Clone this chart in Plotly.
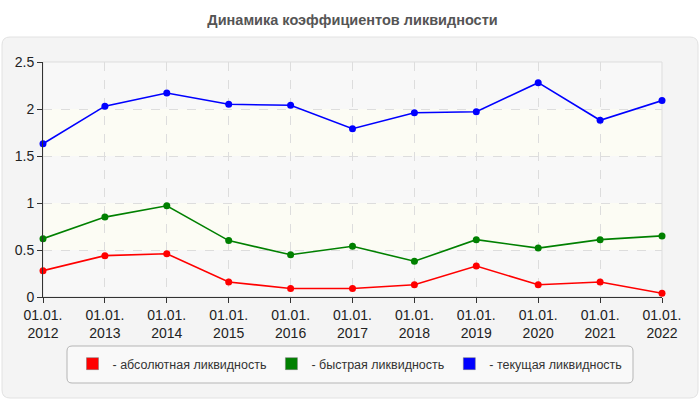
import plotly.graph_objs as go

# данные
years = [2012, 2013, 2014, 2015, 2016, 2017, 2018, 2019, 2020, 2021, 2022]
tick_text = ["01.01.<br>%d" % y for y in years]

absolute_liq = [0.28, 0.44, 0.46, 0.16, 0.09, 0.09, 0.13, 0.33, 0.13, 0.16, 0.04]
quick_liq = [0.62, 0.85, 0.97, 0.60, 0.45, 0.54, 0.38, 0.61, 0.52, 0.61, 0.65]
current_liq = [1.63, 2.03, 2.17, 2.05, 2.04, 1.79, 1.96, 1.97, 2.28, 1.88, 2.09]

series_names = ["- абсолютная ликвидность", "- быстрая ликвидность", "- текущая ликвидность"]
series_colors = ["#ff0000", "#008000", "#0000ff"]

y_ticks = [0, 0.5, 1, 1.5, 2, 2.5]
y_tick_text = ["0", "0.5", "1", "1.5", "2", "2.5"]

# геометрия области графика (пиксели)
W, H = 700, 400
L, R, T, B = 43, 662, 62, 297


def px(x):
    return (x - L) / (R - L)


def py(y):
    return (B - y) / (B - T)


def rounded_rect(x0, y0, x1, y1, r):
    # скруглённый прямоугольник в координатах paper
    ax0, ax1 = px(x0), px(x1)
    ay0, ay1 = py(y0), py(y1)
    rx = r / (R - L)
    ry = r / (B - T)
    return (
        f"M{ax0 + rx},{ay0} L{ax1 - rx},{ay0} Q{ax1},{ay0} {ax1},{ay0 - ry} "
        f"L{ax1},{ay1 + ry} Q{ax1},{ay1} {ax1 - rx},{ay1} "
        f"L{ax0 + rx},{ay1} Q{ax0},{ay1} {ax0},{ay1 + ry} "
        f"L{ax0},{ay0 - ry} Q{ax0},{ay0} {ax0 + rx},{ay0} Z"
    )


data = []
for vals, name, color in zip([absolute_liq, quick_liq, current_liq], series_names, series_colors):
    data.append(go.Scatter(
        x=years, y=vals, mode="lines+markers", name=name, showlegend=False,
        line=dict(color=color, width=1.6), marker=dict(color=color, size=7),
        cliponaxis=False, hoverinfo="skip",
    ))
    # легенда с прямоугольными маркерами
    data.append(go.Bar(
        x=[None], y=[None], name=name,
        marker=dict(color=color, line=dict(color="#777777", width=0.5)),
    ))

# фон: панель и полосы
shapes = [
    dict(type="path", xref="paper", yref="paper", path=rounded_rect(2, 37, 698, 398, 8),
         fillcolor="#f4f4f4", line=dict(color="#e2e2e2", width=1), layer="below"),
    dict(type="path", xref="paper", yref="paper", path=rounded_rect(67, 346, 633, 383, 5),
         fillcolor="#f9f9f9", line=dict(color="#b5b5b5", width=1), layer="below"),
]
band_colors = ["#f8f8f8", "#fcfcf4"]
for i in range(len(y_ticks) - 1):
    shapes.append(dict(
        type="rect", xref="paper", yref="y", x0=0, x1=1, y0=y_ticks[i], y1=y_ticks[i + 1],
        fillcolor=band_colors[i % 2], line=dict(width=0), layer="below",
    ))
shapes.append(dict(type="rect", xref="paper", yref="paper", x0=0, x1=1, y0=0, y1=1,
                   line=dict(color="#dddddd", width=1), layer="below"))

layout = {
    "width": W,
    "height": H,
    "margin": dict(l=L, r=W - R, t=T, b=H - B, pad=0),
    "paper_bgcolor": "white",
    "plot_bgcolor": "rgba(0,0,0,0)",
    "font": dict(family="Arial, Liberation Sans, sans-serif", size=12, color="#333333"),
    "title": dict(text="<b>Динамика коэффициентов ликвидности</b>", x=0.5, xref="paper",
                  xanchor="center", y=1 - 20 / H, yanchor="middle",
                  font=dict(size=14.5, color="#555555")),
    "xaxis": dict(range=[years[0], years[-1]], tickvals=years, ticktext=tick_text,
                  showgrid=True, gridcolor="#dddddd", griddash="dash", gridwidth=1,
                  showline=True, linecolor="#333333", linewidth=1,
                  ticks="outside", ticklen=5, tickcolor="#333333",
                  tickfont=dict(size=14, color="#222222"), zeroline=False, fixedrange=True),
    "yaxis": dict(range=[0, 2.5], tickvals=y_ticks, ticktext=y_tick_text,
                  showgrid=True, gridcolor="#dddddd", griddash="dash", gridwidth=1,
                  showline=True, linecolor="#333333", linewidth=1,
                  ticks="outside", ticklen=5, tickcolor="#333333",
                  tickfont=dict(size=14, color="#222222"), zeroline=False, fixedrange=True),
    "legend": dict(orientation="h", x=px(350), xanchor="center", y=py(364), yanchor="middle",
                   bgcolor="rgba(0,0,0,0)", font=dict(size=12.5, color="#333333"),
                   itemwidth=30, itemclick=False, itemdoubleclick=False),
    "shapes": shapes,
    "showlegend": True,
}

fig = go.Figure(data=data, layout=go.Layout(layout))
fig.write_html("out.html", config={"displayModeBar": False},
               post_script="document.body.style.margin='0';")
